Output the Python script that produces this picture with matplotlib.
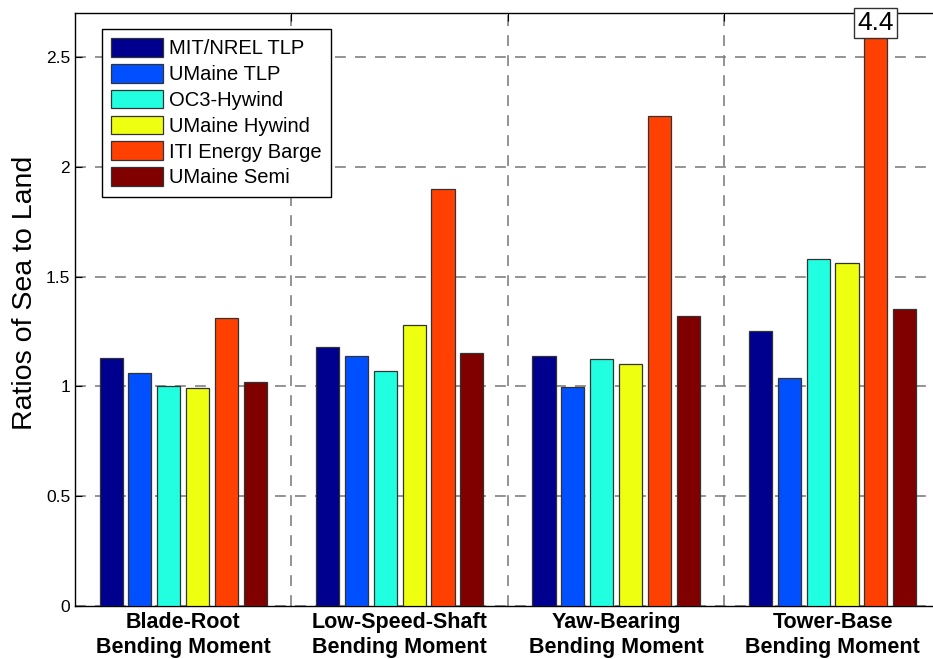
import numpy as np
import matplotlib
matplotlib.use("Agg")
import matplotlib.pyplot as plt

plt.rcParams['font.family'] = ['Liberation Sans', 'DejaVu Sans']

categories = ["Blade-Root\nBending Moment", "Low-Speed-Shaft\nBending Moment",
              "Yaw-Bearing\nBending Moment", "Tower-Base\nBending Moment"]
platforms = ["MIT/NREL TLP", "UMaine TLP", "OC3-Hywind", "UMaine Hywind",
             "ITI Energy Barge", "UMaine Semi"]
colors = ["#00008F", "#0050FF", "#20FFDF", "#EFFF10", "#FF4000", "#800000"]

mit_tlp = [1.13, 1.18, 1.14, 1.25]
umaine_tlp = [1.06, 1.14, 0.995, 1.04]
oc3_hywind = [1.0, 1.07, 1.125, 1.58]
umaine_hywind = [0.993, 1.28, 1.10, 1.56]
iti_barge = [1.31, 1.90, 2.23, 4.4]
umaine_semi = [1.02, 1.15, 1.32, 1.35]

series = [mit_tlp, umaine_tlp, oc3_hywind, umaine_hywind, iti_barge, umaine_semi]

fig = plt.figure(figsize=(9.33, 6.59), dpi=100)
ax = fig.add_axes([0.0804, 0.0804, 0.928, 0.900])

x = np.arange(1, len(categories) + 1)
pitch = 0.8 / len(series)
width = pitch * 0.8
for i, (vals, lab, col) in enumerate(zip(series, platforms, colors)):
    off = (i - (len(series) - 1) / 2) * pitch
    ax.bar(x + off, vals, width, color=col, edgecolor="#333333", linewidth=0.9,
           label=lab, zorder=3)

# value label for the clipped bar
idx = 3
ax.text(x[idx] + (4 - 2.5) * pitch, 2.655, "{}".format(iti_barge[idx]), fontsize=19,
        ha="center", va="center", zorder=6, clip_on=False,
        bbox=dict(boxstyle="square,pad=0.12", facecolor="white", edgecolor="#333333", linewidth=1))

ax.set_xlim(0.5, 4.5)
ax.set_ylim(0, 2.7)
ax.set_yticks([0, 0.5, 1, 1.5, 2, 2.5])
ax.set_yticklabels(["0", "0.5", "1", "1.5", "2", "2.5"], fontsize=12.5)
ax.set_xticks([1.5, 2.5, 3.5])
ax.set_xticklabels([])
ax.tick_params(axis="both", direction="in", length=5, top=True, bottom=False, right=False)
ax.tick_params(axis="x", length=6)
for xi, cat in zip(x, categories):
    ax.text(xi, -0.025, cat, ha="center", va="top", fontsize=15.5, fontweight="bold",
            linespacing=1.25, transform=ax.transData)

ax.grid(True, linestyle=(0, (6.5, 5.5)), color="#808080", linewidth=1.2, zorder=0)
ax.set_axisbelow(True)
ax.spines["right"].set_visible(False)
for s in ["left", "bottom", "top"]:
    ax.spines[s].set_linewidth(1.0)

ax.set_ylabel("Ratios of Sea to Land", fontsize=20.5)
ax.yaxis.set_label_coords(-0.043, 0.528)

leg = ax.legend(loc="upper left", bbox_to_anchor=(0.031, 0.973), borderaxespad=0,
                fontsize=14.5, fancybox=False, edgecolor="black", framealpha=1,
                handlelength=2.6, handleheight=1.05, handletextpad=0.3,
                labelspacing=0.28, borderpad=0.45)
leg.get_frame().set_linewidth(1.0)
leg.set_zorder(7)

fig.savefig("out.png", dpi=100)
